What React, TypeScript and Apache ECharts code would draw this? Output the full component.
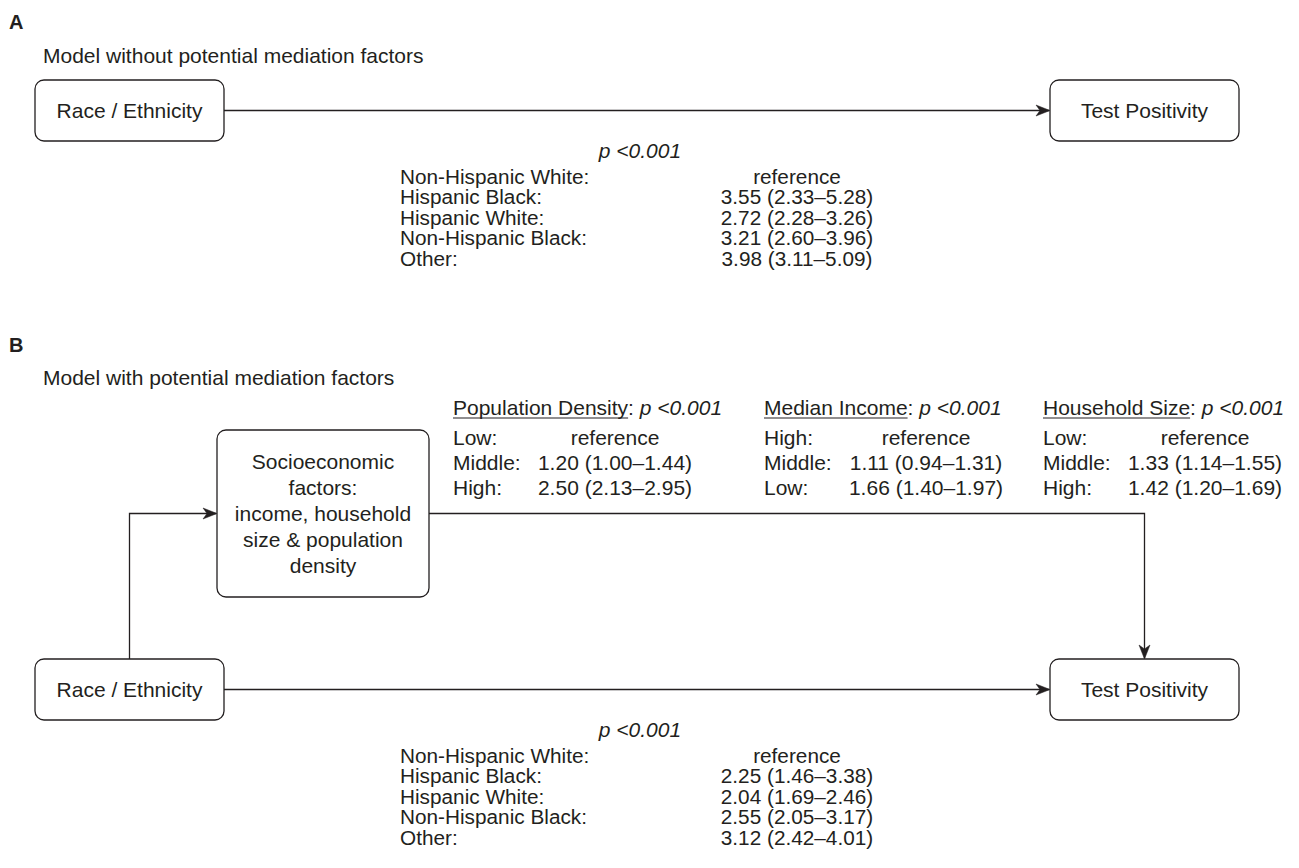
import React, { useEffect, useRef } from 'react';
import * as echarts from 'echarts';

// ---------- data ----------
const panelLetters = ['A', 'B'];
const panelTitles = ['Model without potential mediation factors', 'Model with potential mediation factors'];
const exposureLabel = 'Race / Ethnicity';
const outcomeLabel = 'Test Positivity';
const mediatorBoxLines = ['Socioeconomic', 'factors:', 'income, household', 'size & population', 'density'];
const pValueLabel = 'p <0.001';
const referenceLabel = 'reference';
const raceGroups = ['Non-Hispanic White:', 'Hispanic Black:', 'Hispanic White:', 'Non-Hispanic Black:', 'Other:'];
const orA = [null, 3.55, 2.72, 3.21, 3.98];
const ciLowA = [null, 2.33, 2.28, 2.6, 3.11];
const ciHighA = [null, 5.28, 3.26, 3.96, 5.09];
const orB = [null, 2.25, 2.04, 2.55, 3.12];
const ciLowB = [null, 1.46, 1.69, 2.05, 2.42];
const ciHighB = [null, 3.38, 2.46, 3.17, 4.01];
const mediatorNames = ['Population Density', 'Median Income', 'Household Size'];
const mediatorLevels = [
  ['Low:', 'Middle:', 'High:'],
  ['High:', 'Middle:', 'Low:'],
  ['Low:', 'Middle:', 'High:'],
];
const mediatorOR = [[null, 1.2, 2.5], [null, 1.11, 1.66], [null, 1.33, 1.42]];
const mediatorCILow = [[null, 1.0, 2.13], [null, 0.94, 1.4], [null, 1.14, 1.2]];
const mediatorCIHigh = [[null, 1.44, 2.95], [null, 1.31, 1.97], [null, 1.55, 1.69]];

// ---------- style ----------
const INK = '#231f20';
const FAMILY = '"Liberation Sans", Arial, Helvetica, sans-serif';
const FS = 21;
const TABLE_FS = 19.6;
const TABLE_STEP = 20.5;
const LW = 1.3;

const fmt = (o: number | null, l: number | null, h: number | null) =>
  o == null ? referenceLabel : `${o.toFixed(2)} (${(l as number).toFixed(2)}–${(h as number).toFixed(2)})`;

function measure(text: string, size = FS) {
  const c = document.createElement('canvas').getContext('2d');
  if (!c) return text.length * size * 0.5;
  c.font = `${size}px ${FAMILY}`;
  return c.measureText(text).width;
}

function txt(text: string, x: number, y: number, opts: any = {}) {
  return {
    type: 'text',
    x,
    y,
    scaleX: opts.scaleX ?? 1,
    silent: true,
    style: {
      text,
      fill: INK,
      fontFamily: FAMILY,
      fontSize: opts.fontSize ?? FS,
      fontWeight: opts.fontWeight ?? 'normal',
      fontStyle: opts.fontStyle ?? 'normal',
      lineHeight: opts.lineHeight ?? 19,
      textAlign: opts.align ?? 'left',
      align: opts.align ?? 'left',
      textVerticalAlign: 'middle',
      verticalAlign: 'middle',
      rich: opts.rich,
    },
  };
}

function box(x: number, y: number, w: number, h: number) {
  return {
    type: 'rect',
    silent: true,
    shape: { x, y, width: w, height: h, r: 9 },
    style: { fill: '#fff', stroke: INK, lineWidth: LW },
  };
}

function poly(points: number[][]) {
  return { type: 'polyline', silent: true, shape: { points }, style: { stroke: INK, lineWidth: LW, fill: null } };
}

function arrowHead(x: number, y: number, dir: 'right' | 'down') {
  const L = 14, W = 5.5, N = 10;
  const pts =
    dir === 'right'
      ? [[x, y], [x - L, y - W], [x - N, y], [x - L, y + W]]
      : [[x, y], [x - W, y - L], [x, y - N], [x + W, y - L]];
  return { type: 'polygon', silent: true, shape: { points: pts }, style: { fill: INK, stroke: INK, lineWidth: 0.5 } };
}

function buildGraphic() {
  const els: any[] = [];
  const boxW = 189, boxH = 61;
  const leftX = 35, rightX = 1050;
  const labelX = 400, valueCX = 797, pCX = 640;

  // Panel letters & titles
  const letterY = [22, 345];
  const titleY = [55, 377];
  panelLetters.forEach((l, i) => {
    els.push(txt(l, 9, letterY[i], { fontWeight: 'bold', fontSize: 20 }));
    els.push(txt(panelTitles[i], 43, titleY[i]));
  });

  // Direct path rows (A and B)
  const rows = [
    { top: 80, table: 177, est: orA, lo: ciLowA, hi: ciHighA },
    { top: 659, table: 756, est: orB, lo: ciLowB, hi: ciHighB },
  ];
  rows.forEach((r) => {
    const cy = r.top + boxH / 2;
    els.push(poly([[leftX + boxW, cy], [rightX - 1, cy]]));
    els.push(arrowHead(rightX, cy, 'right'));
    els.push(box(leftX, r.top, boxW, boxH));
    els.push(txt(exposureLabel, leftX + boxW / 2, cy, { align: 'center' }));
    els.push(box(rightX, r.top, boxW, boxH));
    els.push(txt(outcomeLabel, rightX + boxW / 2, cy, { align: 'center' }));
    els.push(txt(pValueLabel, pCX, r.top + boxH + 9, { align: 'center', fontStyle: 'italic' }));
    raceGroups.forEach((g, k) => {
      const y = r.table + k * TABLE_STEP;
      const o = { fontSize: TABLE_FS, scaleX: 1.06, lineHeight: 19 };
      els.push(txt(g, labelX, y, o));
      els.push(txt(fmt(r.est[k], r.lo[k], r.hi[k]), valueCX, y, { ...o, align: 'center' }));
    });
  });

  // Mediator box and paths
  const mX = 217, mY = 430, mW = 212, mH = 167;
  const midY = mY + mH / 2;
  const exCX = leftX + boxW / 2;
  const outCX = rightX + boxW / 2;
  els.push(poly([[exCX, 659], [exCX, midY], [mX - 1, midY]]));
  els.push(arrowHead(mX, midY, 'right'));
  els.push(poly([[mX + mW, midY], [outCX, midY], [outCX, 658]]));
  els.push(arrowHead(outCX, 659, 'down'));
  els.push(box(mX, mY, mW, mH));
  mediatorBoxLines.forEach((line, k) => {
    els.push(txt(line, mX + mW / 2, midY + (k - 2) * 25.8, { align: 'center' }));
  });

  // Mediator tables
  const tabX = [453, 764, 1043];
  const headY = 407;
  mediatorNames.forEach((name, j) => {
    const x = tabX[j];
    els.push(
      txt(`{u|${name}}{n|: }{i|${pValueLabel}}`, x, headY, {
        rich: {
          u: { fontFamily: FAMILY, fontSize: FS, fill: INK, lineHeight: 19 },
          n: { fontFamily: FAMILY, fontSize: FS, fill: INK, lineHeight: 19 },
          i: { fontFamily: FAMILY, fontSize: FS, fill: INK, fontStyle: 'italic', lineHeight: 19 },
        },
      })
    );
    const w = measure(name);
    els.push({
      type: 'line',
      silent: true,
      shape: { x1: x, y1: headY + 11, x2: x + w, y2: headY + 11 },
      style: { stroke: INK, lineWidth: 1.2 },
    });
    mediatorLevels[j].forEach((lev, k) => {
      const y = headY + 30 + k * 25;
      els.push(txt(lev, x, y));
      els.push(txt(fmt(mediatorOR[j][k], mediatorCILow[j][k], mediatorCIHigh[j][k]), x + 162, y, { align: 'center' }));
    });
  });

  return els;
}

export default function App() {
  const ref = useRef<HTMLDivElement>(null);
  useEffect(() => {
    if (!ref.current) return;
    const chart = echarts.init(ref.current, undefined, { renderer: 'svg' });
    chart.setOption({
      animation: false,
      backgroundColor: '#ffffff',
      graphic: { elements: buildGraphic() },
    });
    return () => chart.dispose();
  }, []);
  return (
    <div
      ref={ref}
      style={{ position: 'absolute', left: 0, top: 0, width: 1299, height: 868, background: '#fff' }}
    />
  );
}
